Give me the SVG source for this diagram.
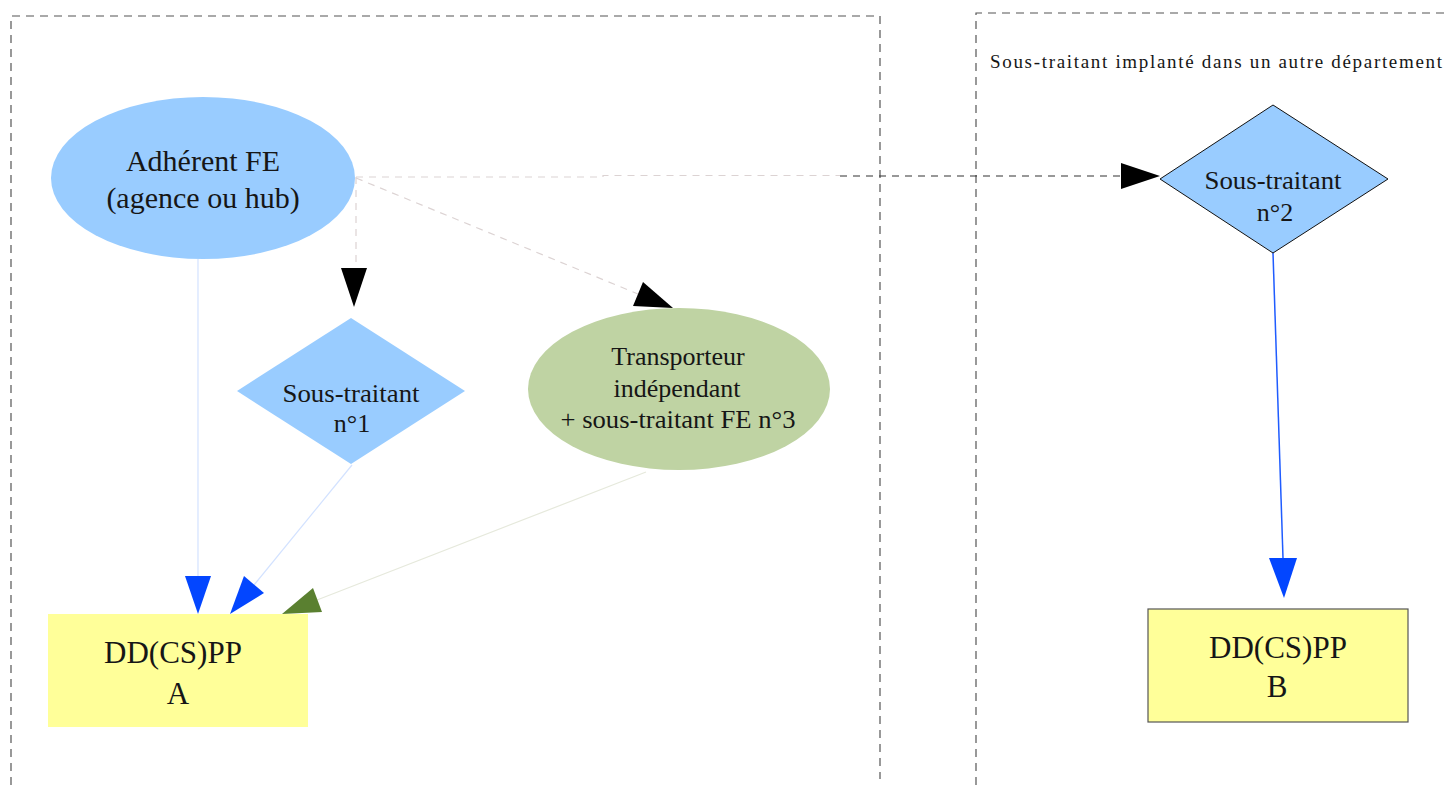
<svg xmlns="http://www.w3.org/2000/svg" width="1450" height="785" viewBox="0 0 1450 785">
  <style>
    .zone { fill: none; stroke: #555; stroke-width: 1.2; stroke-dasharray: 8 6; }
    .lbl { font-family: "Liberation Serif", "Times New Roman", serif; fill: #161616; text-anchor: middle; }
    .blue { fill: #99ccff; }
    .green { fill: #bfd3a3; }
    .yellow { fill: #ffff99; }
    .dash-light { fill: none; stroke: #dcd3d3; stroke-width: 1.2; stroke-dasharray: 7 6; }
    .dash-dark { fill: none; stroke: #333; stroke-width: 1.2; stroke-dasharray: 7 6; }
    .thin-blue { fill: none; stroke: #d3e2ff; stroke-width: 1.2; }
    .thin-green { fill: none; stroke: #e6e9dc; stroke-width: 1.2; }
    .strong-blue { fill: none; stroke: #1f5cff; stroke-width: 1.5; }
    .head-black { fill: #000; }
    .head-blue { fill: #0346ff; }
    .head-green { fill: #5a8030; }
  </style>
  <rect width="1450" height="785" fill="#fff"/>

  <g id="zones">
    <path class="zone" d="M11,785 V16 H880 V779"/>
    <path class="zone" d="M976,785 V13 H1450"/>
    <text class="lbl" x="990" y="68" font-size="19" text-anchor="start" style="text-anchor:start" textLength="452" lengthAdjust="spacing">Sous-traitant implanté dans un autre département</text>
  </g>

  <g id="connectors">
    <line class="dash-light" x1="356" y1="177" x2="356" y2="268"/>
    <polygon class="head-black" points="341,268 367,268 354,307"/>
    <line class="dash-light" x1="356" y1="178" x2="638" y2="294"/>
    <polygon class="head-black" points="673,308 643,282 633,306"/>
    <polyline class="dash-light" points="356,177 603,177 603,175.5 840,175.5"/>
    <line class="dash-dark" x1="840" y1="176" x2="1121" y2="176"/>
    <polygon class="head-black" points="1121,163 1121,189 1160,176"/>
    <line class="thin-blue" x1="198" y1="259" x2="198" y2="576"/>
    <polygon class="head-blue" points="185,576 211,576 198,614"/>
    <line class="thin-blue" x1="352" y1="465" x2="254" y2="585"/>
    <polygon class="head-blue" points="230,614 264,593 244,576"/>
    <line class="thin-green" x1="646" y1="472" x2="317" y2="600"/>
    <polygon class="head-green" points="282,614 322,612 313,588"/>
    <line class="strong-blue" x1="1273" y1="253" x2="1283" y2="558"/>
    <polygon class="head-blue" points="1269,558 1297,558 1284,598"/>
  </g>

  <g id="adherent">
    <ellipse class="blue" cx="203" cy="178" rx="152" ry="81"/>
    <text class="lbl" x="203" y="171" font-size="30">Adhérent FE</text>
    <text class="lbl" x="203" y="208" font-size="30">(agence ou hub)</text>
  </g>

  <g id="sous-traitant-1">
    <polygon class="blue" points="351,318 465,391 351,464 237,391"/>
    <text class="lbl" x="351" y="402" font-size="26" textLength="137" lengthAdjust="spacingAndGlyphs">Sous-traitant</text>
    <text class="lbl" x="352" y="432" font-size="26">n°1</text>
  </g>

  <g id="transporteur">
    <ellipse class="green" cx="679" cy="389" rx="151" ry="81"/>
    <text class="lbl" x="678" y="365" font-size="26">Transporteur</text>
    <text class="lbl" x="677" y="397" font-size="26">indépendant</text>
    <text class="lbl" x="678" y="428" font-size="26" textLength="235" lengthAdjust="spacingAndGlyphs">+ sous-traitant FE n°3</text>
  </g>

  <g id="sous-traitant-2">
    <polygon class="blue" points="1273,105 1388,179 1273,253 1160,179" stroke="#111" stroke-width="1"/>
    <text class="lbl" x="1273" y="189" font-size="26" textLength="137" lengthAdjust="spacingAndGlyphs">Sous-traitant</text>
    <text class="lbl" x="1275" y="221" font-size="26">n°2</text>
  </g>

  <g id="ddcspp-a">
    <rect class="yellow" x="48" y="614" width="260" height="113" fill="#fcfc9c"/>
    <text class="lbl" x="173" y="663" font-size="31">DD(CS)PP</text>
    <text class="lbl" x="178" y="704" font-size="31">A</text>
  </g>

  <g id="ddcspp-b">
    <rect class="yellow" x="1148" y="609" width="260" height="113" stroke="#555" stroke-width="1.2"/>
    <text class="lbl" x="1278" y="658" font-size="31">DD(CS)PP</text>
    <text class="lbl" x="1277" y="697" font-size="31">B</text>
  </g>
</svg>
